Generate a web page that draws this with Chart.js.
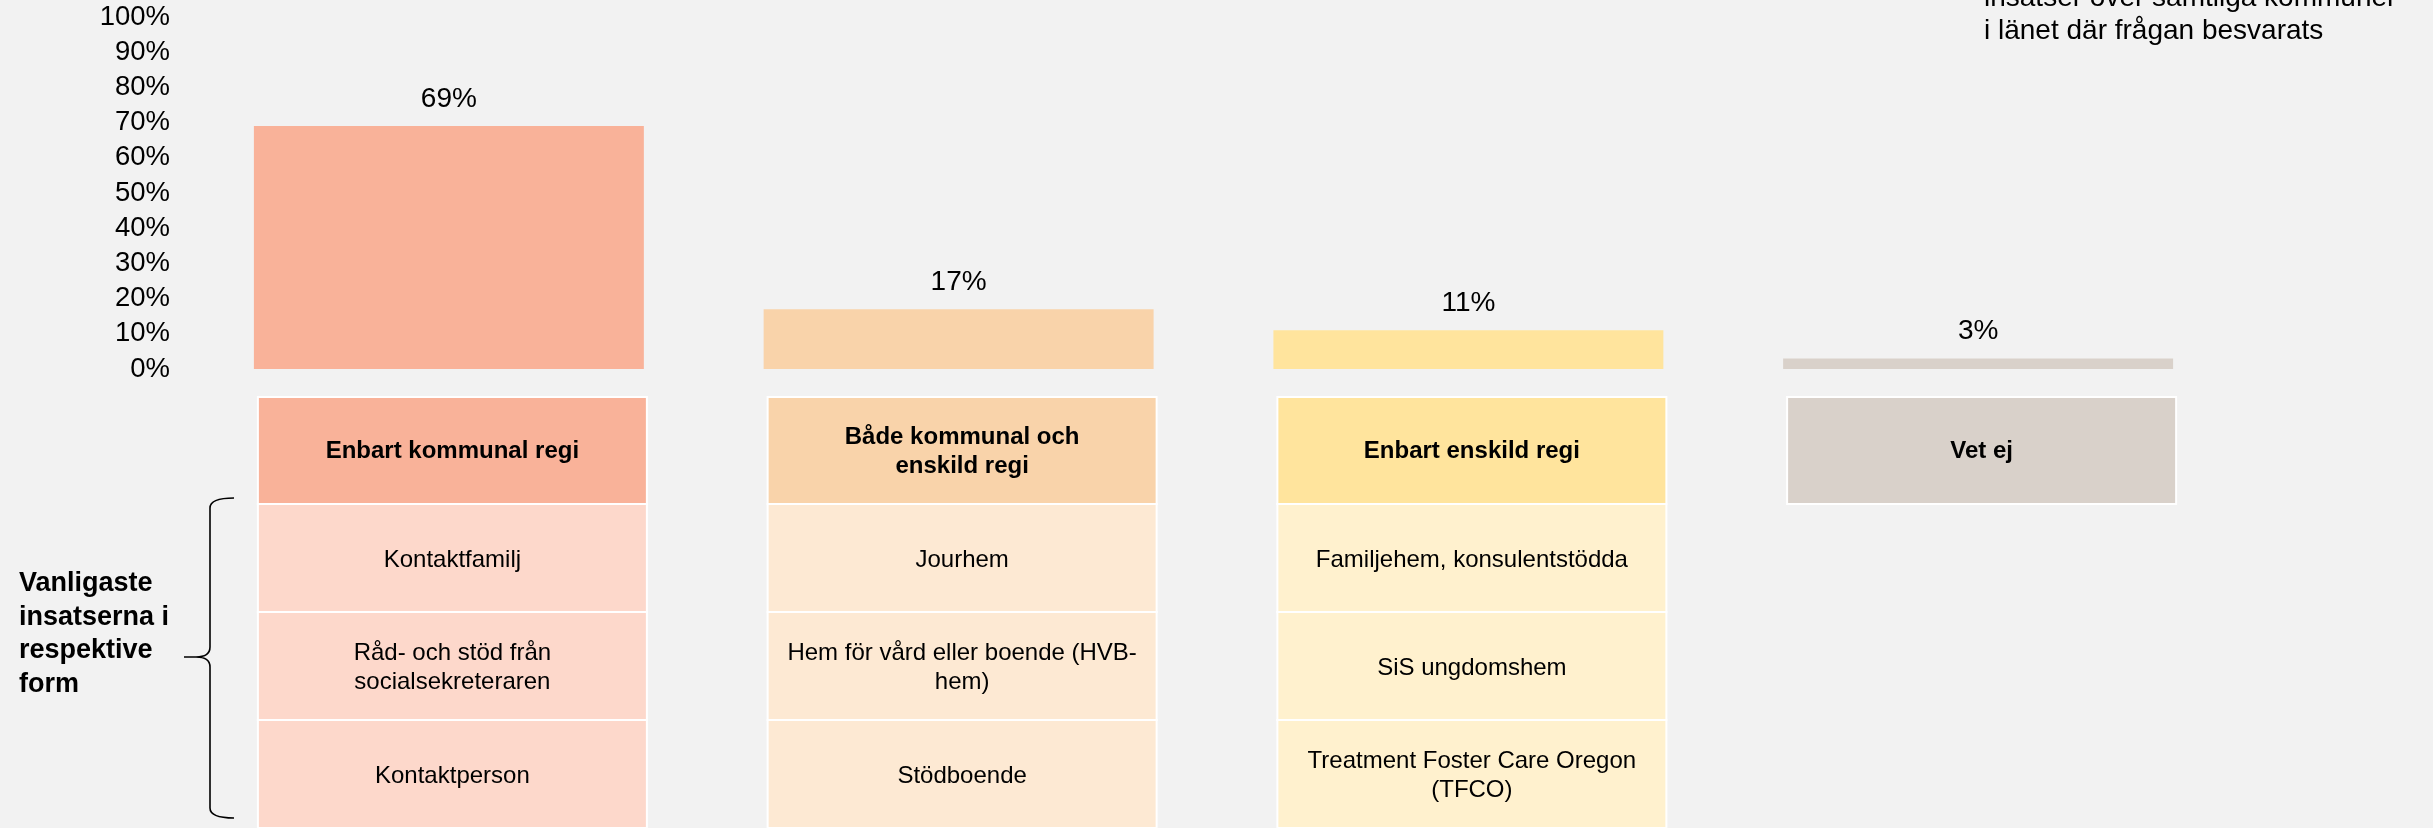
<!DOCTYPE html>
<html>
<head>
<meta charset="utf-8">
<script src="https://cdn.jsdelivr.net/npm/chart.js@4/dist/chart.umd.min.js"></script>
<style>
  html, body { margin: 0; padding: 0; background: #F2F2F2; }
  #wrap { position: relative; width: 2433px; height: 828px; }
</style>
</head>
<body>
<div id="wrap"><canvas id="c" width="2433" height="828"></canvas></div>
<script>
// ---- data ----
const categories = ["Enbart kommunal regi", "Både kommunal och\nenskild regi", "Enbart enskild regi", "Vet ej"];
const values = [69, 17, 11, 3];
const yTicks = [0, 10, 20, 30, 40, 50, 60, 70, 80, 90, 100];
const topInsatser = [
  ["Kontaktfamilj", "Råd- och stöd från\nsocialsekreteraren", "Kontaktperson"],
  ["Jourhem", "Hem för vård eller boende (HVB-\nhem)", "Stödboende"],
  ["Familjehem, konsulentstödda", "SiS ungdomshem", "Treatment Foster Care Oregon\n(TFCO)"],
  []
];
const sideLabel = ["Vanligaste", "insatserna i", "respektive", "form"];
const noteLines = ["insatser över samtliga kommuner", "i länet där frågan besvarats"];

// ---- styles ----
const FONT = '"Liberation Sans", Arial, sans-serif';
const barColors = ["#F9B299", "#F9D3AA", "#FFE49D", "#D9D1CA"];
const cellColors = ["#FDD8CB", "#FDE9D3", "#FFF1CE", "#EDE8E4"];

const tablePlugin = {
  id: 'tablePlugin',
  afterDraw(chart) {
    const ctx = chart.ctx;
    const xs = chart.scales.x;
    const meta = chart.getDatasetMeta(0);
    ctx.save();
    // data labels
    ctx.fillStyle = '#000';
    ctx.font = '28px ' + FONT;
    ctx.textAlign = 'center';
    ctx.textBaseline = 'middle';
    meta.data.forEach((bar, i) => {
      ctx.fillText(values[i] + '%', bar.x, bar.y - 27);
    });

    // table
    const cellW = 389;
    const headTop = 397, headH = 107, rowH = 108;
    categories.forEach((cat, i) => {
      const cx = xs.getPixelForValue(i) + 3.5;
      const x0 = cx - cellW / 2;
      // header
      ctx.fillStyle = barColors[i];
      ctx.fillRect(x0, headTop, cellW, headH);
      ctx.strokeStyle = '#FFFFFF';
      ctx.lineWidth = 2;
      ctx.strokeRect(x0, headTop, cellW, headH);
      ctx.fillStyle = '#000';
      ctx.font = 'bold 24px ' + FONT;
      const hl = cat.split('\n');
      hl.forEach((l, k) => {
        ctx.fillText(l, cx, headTop + headH / 2 + 1 + (k - (hl.length - 1) / 2) * 29);
      });
      // rows
      topInsatser[i].forEach((txt, r) => {
        const y0 = headTop + headH + r * rowH;
        ctx.fillStyle = cellColors[i];
        ctx.fillRect(x0, y0, cellW, rowH);
        ctx.strokeStyle = '#FFFFFF';
        ctx.lineWidth = 2;
        ctx.strokeRect(x0, y0, cellW, rowH);
        ctx.fillStyle = '#000';
        ctx.font = '24px ' + FONT;
        const lines = txt.split('\n');
        lines.forEach((l, k) => {
          ctx.fillText(l, cx, y0 + rowH / 2 + 2 + (k - (lines.length - 1) / 2) * 29);
        });
      });
    });

    // brace
    ctx.strokeStyle = '#000';
    ctx.lineWidth = 1.6;
    ctx.beginPath();
    ctx.moveTo(234, 498);
    ctx.quadraticCurveTo(210, 498, 210, 508);
    ctx.lineTo(210, 647);
    ctx.quadraticCurveTo(210, 657, 196, 657);
    ctx.lineTo(184, 657);
    ctx.moveTo(196, 657);
    ctx.quadraticCurveTo(210, 657, 210, 667);
    ctx.lineTo(210, 808);
    ctx.quadraticCurveTo(210, 818, 234, 818);
    ctx.stroke();

    // side label
    ctx.fillStyle = '#000';
    ctx.font = 'bold 27px ' + FONT;
    ctx.textAlign = 'left';
    ctx.textBaseline = 'middle';
    sideLabel.forEach((l, k) => ctx.fillText(l, 19, 584 + k * 33.5));

    // note top right
    ctx.font = '28px ' + FONT;
    ctx.textBaseline = 'alphabetic';
    noteLines.forEach((l, k) => ctx.fillText(l, 1984, 6 + k * 33));
    ctx.restore();
  }
};

new Chart(document.getElementById('c'), {
  type: 'bar',
  data: {
    labels: categories,
    datasets: [{
      data: values,
      backgroundColor: barColors,
      borderWidth: 0,
      barPercentage: 0.765,
      categoryPercentage: 1.0
    }]
  },
  options: {
    responsive: false,
    animation: false,
    devicePixelRatio: 1,
    layout: { padding: { top: 17, bottom: 459, left: 0, right: 200 } },
    plugins: { legend: { display: false }, tooltip: { enabled: false } },
    scales: {
      x: { display: false },
      y: {
        min: 0, max: 100,
        afterBuildTicks(scale) { scale.ticks = yTicks.map(v => ({ value: v })); },
        afterFit(scale) { scale.width = 194; scale.paddingTop = 0; scale.paddingBottom = 0; },
        grid: { display: false, drawTicks: false },
        border: { display: false },
        ticks: {
          autoSkip: false,
          padding: 24,
          color: '#000',
          font: { family: FONT, size: 27.5 },
          callback: v => v + '%'
        }
      }
    }
  },
  plugins: [tablePlugin]
});
</script>
</body>
</html>
